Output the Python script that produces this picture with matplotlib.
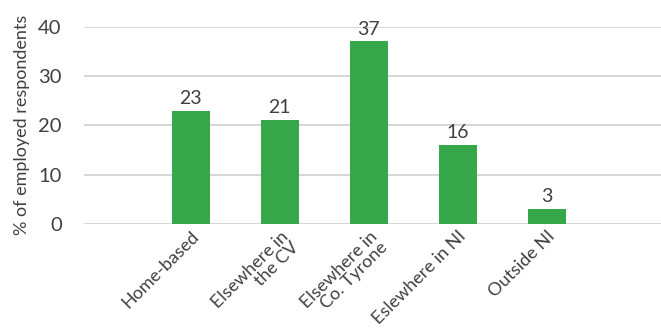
import matplotlib.pyplot as plt

categories = ['Home-based', 'Elsewhere in\nthe CV', 'Elsewhere in\nCo. Tyrone',
              'Eslewhere in NI', 'Outside NI']
values = [23, 21, 37, 16, 3]

plt.rcParams['font.family'] = ['Lato', 'DejaVu Sans']
txt = '#404040'

fig, ax = plt.subplots(figsize=(6.61, 3.33), dpi=100)
fig.subplots_adjust(left=0.127, right=1.0, top=0.92, bottom=0.327)

x = range(len(values))
bars = ax.bar(x, values, width=0.42, color='#37a84a', zorder=3)
for b, v in zip(bars, values):
    ax.text(b.get_x() + b.get_width() / 2, v + 0.8, str(v), ha='center', va='bottom',
            fontsize=14, color=txt)

ax.set_xlim(-1.2, 5.28)
ax.set_ylim(0, 40)
ax.set_yticks([0, 10, 20, 30, 40])
ax.yaxis.grid(True, color='#d0d0d0', linewidth=1.2)
ax.set_axisbelow(True)
for s in ['top', 'right', 'left', 'bottom']:
    ax.spines[s].set_visible(False)
ax.tick_params(axis='both', length=0, colors=txt)
ax.tick_params(axis='y', labelsize=14.5, pad=16)
ax.set_xticks(list(x))
ax.set_xticklabels(categories, rotation=45, ha='right', rotation_mode='anchor',
                   fontsize=13, multialignment='right', linespacing=0.95)
ax.tick_params(axis='x', pad=3)
ax.set_ylabel('% of employed respondents', fontsize=13, color=txt, labelpad=6)

fig.savefig('out.png')
